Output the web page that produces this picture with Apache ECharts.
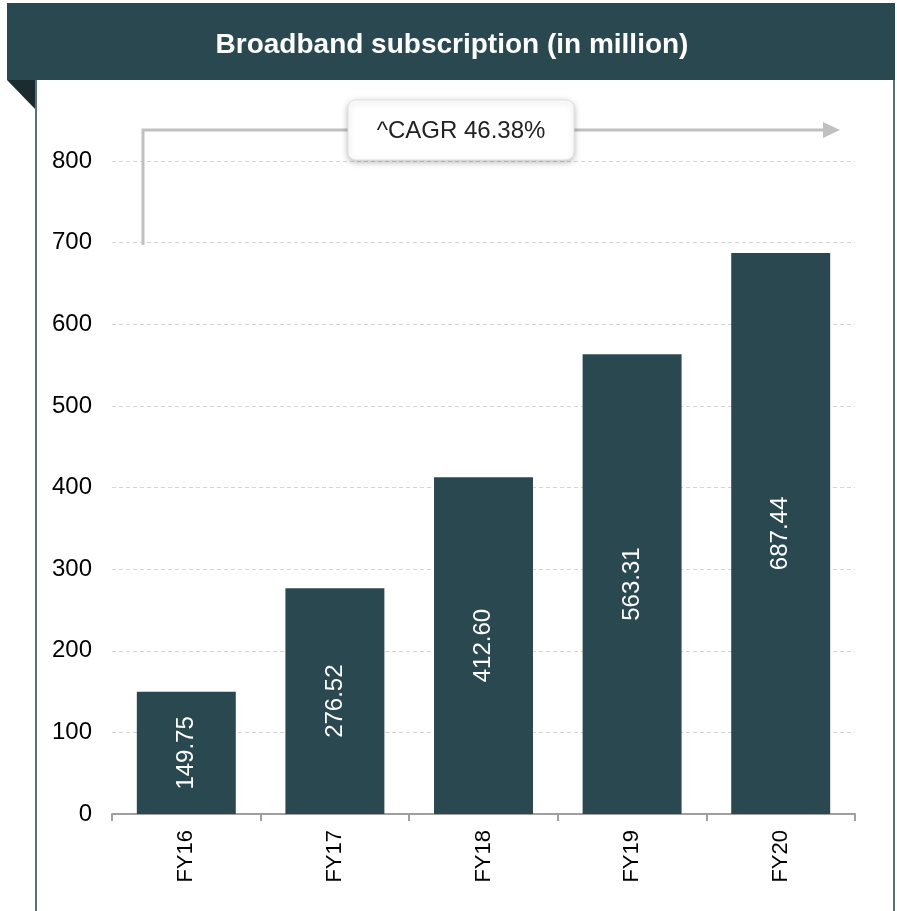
<!DOCTYPE html>
<html>
<head>
<meta charset="utf-8">
<script src="https://cdn.jsdelivr.net/npm/echarts@6/dist/echarts.min.js"></script>
<style>
html,body{margin:0;padding:0;background:#fff;}
#chart{width:897px;height:911px;}
</style>
</head>
<body>
<div id="chart"></div>
<script>
var titleText = 'Broadband subscription (in million)';
var categories = ['FY16', 'FY17', 'FY18', 'FY19', 'FY20'];
var values = [149.75, 276.52, 412.60, 563.31, 687.44];
var yTicks = [0, 100, 200, 300, 400, 500, 600, 700, 800];
var cagrText = '^CAGR 46.38%';

var FONT = '"Liberation Sans", Arial, sans-serif';
var DARK = '#2a4850';

var chart = echarts.init(document.getElementById('chart'), null, {renderer: 'canvas'});
chart.setOption({
  backgroundColor: '#ffffff',
  animation: false,
  textStyle: {fontFamily: FONT},
  grid: {left: 112, right: 42, top: 161, bottom: 97, containLabel: false},
  xAxis: {
    type: 'category',
    data: categories,
    boundaryGap: true,
    axisLine: {show: true, lineStyle: {color: '#a0a0a0', width: 2}},
    axisTick: {show: true, length: 7, lineStyle: {color: '#a0a0a0', width: 2}},
    axisLabel: {rotate: 90, margin: 16, fontSize: 22, color: '#000', fontFamily: FONT}
  },
  yAxis: {
    type: 'value',
    min: yTicks[0],
    max: yTicks[yTicks.length - 1],
    interval: yTicks[1] - yTicks[0],
    axisLine: {show: false},
    axisTick: {show: false},
    axisLabel: {margin: 20, fontSize: 24, color: '#000', fontFamily: FONT},
    splitLine: {show: true, lineStyle: {color: '#d4d4d4', type: [4, 3], width: 1}}
  },
  series: [{
    type: 'bar',
    data: values,
    barWidth: '66.6%',
    itemStyle: {color: DARK},
    label: {
      show: true,
      position: 'inside',
      rotate: 90,
      color: '#fff',
      fontSize: 24,
      fontFamily: FONT,
      formatter: function (p) { return Number(p.value).toFixed(2); }
    }
  }],
  graphic: [
    {type: 'rect', shape: {x: 7, y: 3, width: 888, height: 77}, style: {fill: DARK}, z: 10},
    {type: 'text', x: 452, y: 45, style: {text: titleText, fill: '#fff', font: 'bold 28px ' + FONT, textAlign: 'center', textVerticalAlign: 'middle'}, z: 11},
    {type: 'polygon', shape: {points: [[7, 80], [36, 80], [36, 110]]}, style: {fill: '#1b2b30'}, z: 10},
    {type: 'line', shape: {x1: 36, y1: 80, x2: 36, y2: 911}, style: {stroke: '#5b717a', lineWidth: 2}, z: 10},
    {type: 'line', shape: {x1: 894, y1: 80, x2: 894, y2: 911}, style: {stroke: '#5b717a', lineWidth: 2}, z: 10},
    {type: 'polyline', shape: {points: [[143, 245], [143, 130], [826, 130]]}, style: {stroke: '#c0c0c0', lineWidth: 3, fill: null}, z: 10},
    {type: 'polygon', shape: {points: [[823, 122], [840, 130], [823, 138]]}, style: {fill: '#c0c0c0'}, z: 10},
    {type: 'rect', shape: {x: 348, y: 100, width: 226, height: 60, r: 8}, style: {fill: '#fff', stroke: '#e0e0e0', lineWidth: 1, shadowBlur: 6, shadowOffsetY: 2, shadowColor: 'rgba(0,0,0,0.25)'}, z: 12},
    {type: 'text', x: 461, y: 131, style: {text: cagrText, fill: '#222', font: '24px ' + FONT, textAlign: 'center', textVerticalAlign: 'middle'}, z: 13}
  ]
});
</script>
</body>
</html>
